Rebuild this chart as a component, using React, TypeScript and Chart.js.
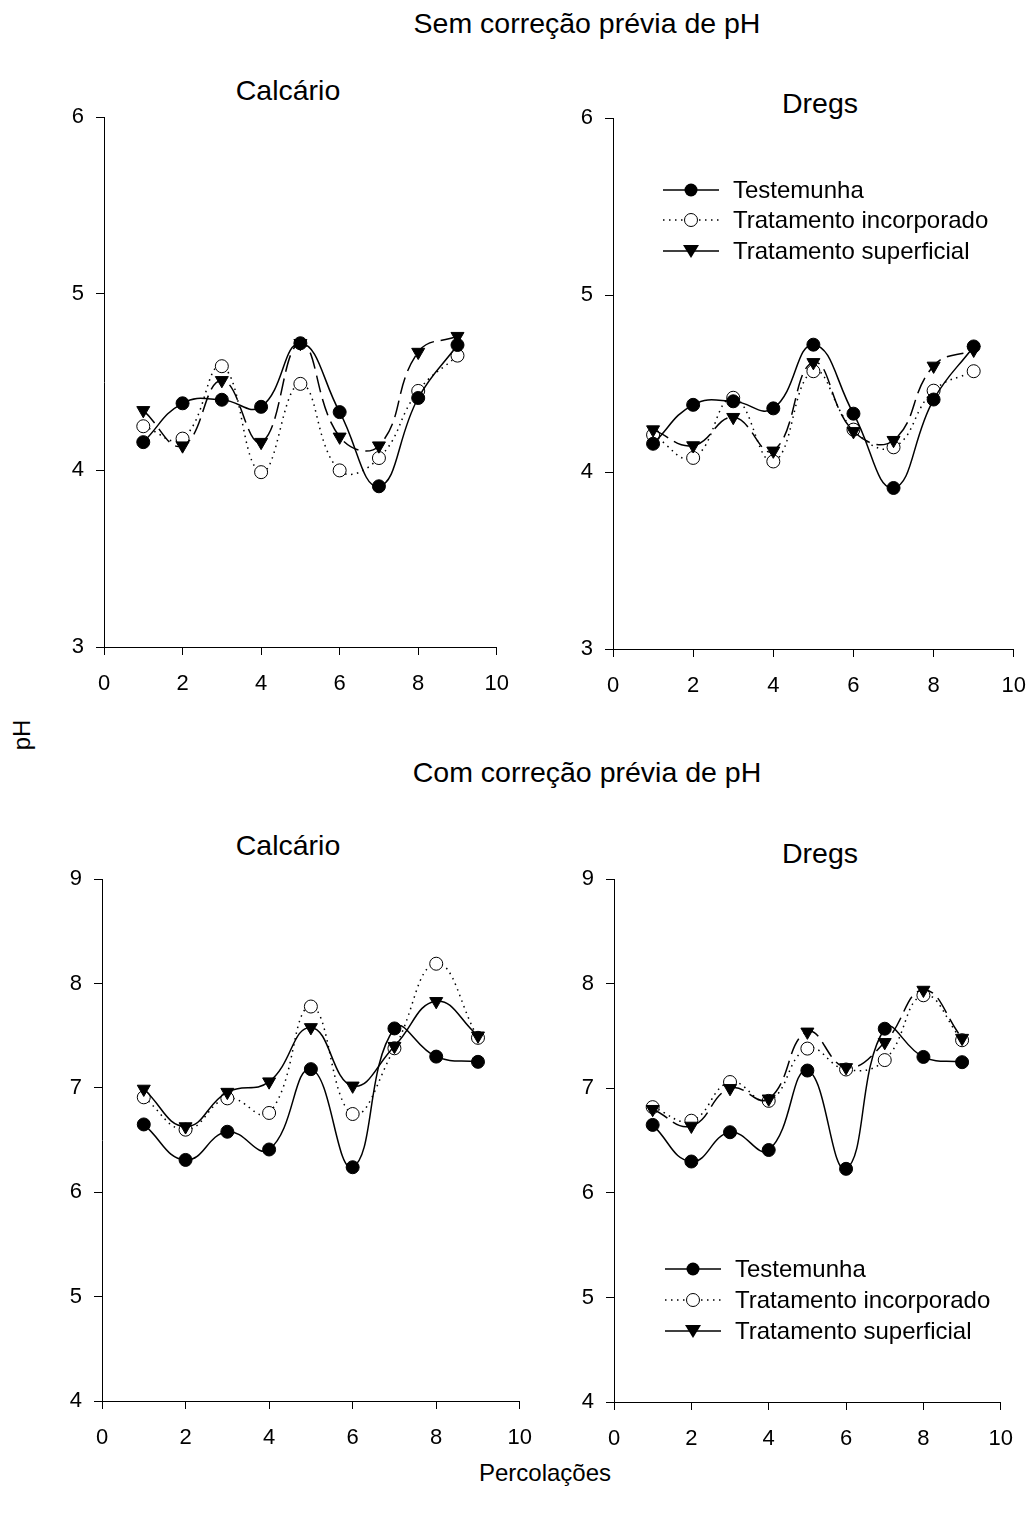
import React, { useEffect, useRef } from "react";
import { Chart, registerables } from "chart.js";

Chart.register(...registerables);

const percolacoes = [1, 2, 3, 4, 5, 6, 7, 8, 9];
const xTicks = [0, 2, 4, 6, 8, 10];
const yTicksTop = [3, 4, 5, 6];
const yTicksBottom = [4, 5, 6, 7, 8, 9];

const seriesNames = ["Testemunha", "Tratamento incorporado", "Tratamento superficial"];

const semCalcTest = [4.16, 4.38, 4.4, 4.36, 4.72, 4.33, 3.91, 4.41, 4.71];
const semCalcInc = [4.25, 4.18, 4.59, 3.99, 4.49, 4.0, 4.07, 4.45, 4.65];
const semCalcSup = [4.34, 4.14, 4.51, 4.16, 4.72, 4.19, 4.14, 4.67, 4.76];

const semDregTest = [4.16, 4.38, 4.4, 4.36, 4.72, 4.33, 3.91, 4.41, 4.71];
const semDregInc = [4.21, 4.08, 4.42, 4.06, 4.57, 4.24, 4.14, 4.46, 4.57];
const semDregSup = [4.24, 4.15, 4.31, 4.12, 4.62, 4.23, 4.18, 4.6, 4.69];

const comCalcTest = [6.65, 6.31, 6.58, 6.41, 7.18, 6.24, 7.57, 7.3, 7.25];
const comCalcInc = [6.91, 6.6, 6.9, 6.76, 7.78, 6.75, 7.38, 8.19, 7.48];
const comCalcSup = [6.99, 6.63, 6.96, 7.06, 7.58, 7.02, 7.4, 7.83, 7.5];

const comDregTest = [6.65, 6.3, 6.58, 6.41, 7.17, 6.23, 7.57, 7.3, 7.25];
const comDregInc = [6.82, 6.69, 7.06, 6.88, 7.38, 7.18, 7.27, 7.89, 7.46];
const comDregSup = [6.8, 6.64, 7.0, 6.9, 7.54, 7.2, 7.44, 7.94, 7.48];

const FONT = "'Liberation Sans', Arial, Helvetica, sans-serif";
const Y_AXIS_W = 70;
const X_AXIS_H = 70;

type PanelProps = {
  L: number; R: number; T: number; B: number;
  yMin: number; yMax: number; yTicks: number[];
  test: number[]; inc: number[]; sup: number[];
  supDashed: boolean;
};

function toPts(vals: number[]) {
  return percolacoes.map((x, i) => ({ x, y: vals[i] }));
}

function Panel(p: PanelProps) {
  const ref = useRef<HTMLCanvasElement | null>(null);
  const w0 = p.R - p.L + Y_AXIS_W + 30;
  const h0 = p.B - p.T + X_AXIS_H + 30;
  useEffect(() => {
    const canvas = ref.current;
    if (!canvas) return;
    const chart = new Chart(canvas, {
      type: "line",
      data: {
        datasets: [
          {
            label: seriesNames[0],
            data: toPts(p.test),
            borderColor: "#000",
            borderWidth: 1.5,
            tension: 0.45,
            pointStyle: "circle",
            pointRadius: 6.5,
            pointBackgroundColor: "#000",
            pointBorderColor: "#000",
            pointBorderWidth: 1,
            order: 0,
          },
          {
            label: seriesNames[1],
            data: toPts(p.inc),
            borderColor: "#000",
            borderWidth: 1.5,
            borderDash: [1.5, 4.5],
            tension: 0.45,
            pointStyle: "circle",
            pointRadius: 6.5,
            pointBackgroundColor: "#fff",
            pointBorderColor: "#000",
            pointBorderWidth: 1,
            order: 2,
          },
          {
            label: seriesNames[2],
            data: toPts(p.sup),
            borderColor: "#000",
            borderWidth: 1.5,
            borderDash: p.supDashed ? [17, 7] : [],
            tension: 0.45,
            pointStyle: "triangle",
            pointRotation: 180,
            pointRadius: 7.5,
            pointBackgroundColor: "#000",
            pointBorderColor: "#000",
            pointBorderWidth: 1,
            order: 1,
          },
        ],
      },
      options: {
        animation: false,
        responsive: false,
        maintainAspectRatio: false,
        devicePixelRatio: 1,
        layout: { padding: 0 },
        plugins: { legend: { display: false }, tooltip: { enabled: false }, title: { display: false } },
        scales: {
          x: {
            type: "linear",
            min: 0,
            max: 10,
            afterBuildTicks: (s: any) => { s.ticks = xTicks.map((v) => ({ value: v })); },
            afterFit: (s: any) => { s.height = X_AXIS_H; },
            grid: { drawOnChartArea: false, drawTicks: true, tickLength: 8, color: "#000", lineWidth: 1 },
            border: { display: true, color: "#000", width: 1 },
            ticks: { color: "#000", font: { family: FONT, size: 22 }, padding: 16, maxRotation: 0, autoSkip: false },
          },
          y: {
            type: "linear",
            min: p.yMin,
            max: p.yMax,
            afterBuildTicks: (s: any) => { s.ticks = p.yTicks.map((v) => ({ value: v })); },
            afterFit: (s: any) => { s.width = Y_AXIS_W; },
            grid: { drawOnChartArea: false, drawTicks: true, tickLength: 8, color: "#000", lineWidth: 1 },
            border: { display: true, color: "#000", width: 1 },
            ticks: { color: "#000", font: { family: FONT, size: 22 }, padding: 12, autoSkip: false },
          },
        },
      } as any,
    });
    // Second pass: size/position the canvas so the plot area lands where the reference has it.
    const ca = chart.chartArea;
    const mL = ca.left;
    const mT = ca.top;
    const mR = w0 - ca.right;
    const mB = h0 - ca.bottom;
    const W = Math.round(p.R - p.L + mL + mR);
    const H = Math.round(p.B - p.T + mT + mB);
    chart.resize(W, H);
    const ca2 = chart.chartArea;
    canvas.style.left = `${p.L - ca2.left}px`;
    canvas.style.top = `${p.T - ca2.top}px`;
    return () => chart.destroy();
  }, []);
  return (
    <canvas
      ref={ref}
      width={w0}
      height={h0}
      style={{ position: "absolute", left: p.L - Y_AXIS_W, top: p.T - 15 }}
    />
  );
}

function LegendRow({ kind, label, y, x }: { kind: number; label: string; y: number; x: number }) {
  return (
    <div style={{ position: "absolute", left: x, top: y - 15, height: 30, display: "flex", alignItems: "center" }}>
      <svg width={56} height={30} style={{ display: "block" }}>
        {kind === 1 ? (
          <line x1={0} y1={15} x2={56} y2={15} stroke="#000" strokeWidth={1.4} strokeDasharray="1.5 4.5" />
        ) : (
          <line x1={0} y1={15} x2={56} y2={15} stroke="#000" strokeWidth={1.4} />
        )}
        {kind === 0 && <circle cx={28} cy={15} r={6.5} fill="#000" />}
        {kind === 1 && <circle cx={28} cy={15} r={6.5} fill="#fff" stroke="#000" strokeWidth={1} />}
        {kind === 2 && <polygon points="20,9 36,9 28,22" fill="#000" />}
      </svg>
      <span style={{ marginLeft: 14, fontFamily: FONT, fontSize: 24, color: "#000", whiteSpace: "nowrap", lineHeight: "30px" }}>
        {label}
      </span>
    </div>
  );
}

function Text({ x, y, size, children }: { x: number; y: number; size: number; children: React.ReactNode }) {
  return (
    <div
      style={{
        position: "absolute",
        left: x,
        top: y,
        transform: "translate(-50%, -50%)",
        fontFamily: FONT,
        fontSize: size,
        color: "#000",
        whiteSpace: "nowrap",
        lineHeight: 1,
      }}
    >
      {children}
    </div>
  );
}

export default function App() {
  return (
    <div style={{ position: "absolute", left: 0, top: 0, width: 1033, height: 1519, background: "#fff", overflow: "hidden" }}>
      <Text x={587} y={23} size={28.5}>Sem correção prévia de pH</Text>
      <Text x={288} y={90} size={28.5}>Calcário</Text>
      <Text x={820} y={103} size={28.5}>Dregs</Text>
      <Text x={587} y={772} size={28.5}>Com correção prévia de pH</Text>
      <Text x={288} y={845} size={28.5}>Calcário</Text>
      <Text x={820} y={853} size={28.5}>Dregs</Text>
      <div
        style={{
          position: "absolute",
          left: 22,
          top: 735,
          transform: "translate(-50%, -50%) rotate(-90deg)",
          fontFamily: FONT,
          fontSize: 24,
          lineHeight: 1,
          whiteSpace: "nowrap",
        }}
      >
        pH
      </div>
      <Text x={545} y={1473} size={24}>Percolações</Text>

      <Panel L={104} R={497} T={117} B={647} yMin={3} yMax={6} yTicks={yTicksTop}
        test={semCalcTest} inc={semCalcInc} sup={semCalcSup} supDashed={true} />
      <Panel L={613} R={1014} T={118} B={649} yMin={3} yMax={6} yTicks={yTicksTop}
        test={semDregTest} inc={semDregInc} sup={semDregSup} supDashed={true} />
      <Panel L={102} R={520} T={879} B={1401} yMin={4} yMax={9} yTicks={yTicksBottom}
        test={comCalcTest} inc={comCalcInc} sup={comCalcSup} supDashed={false} />
      <Panel L={614} R={1001} T={879} B={1402} yMin={4} yMax={9} yTicks={yTicksBottom}
        test={comDregTest} inc={comDregInc} sup={comDregSup} supDashed={true} />

      <LegendRow kind={0} label={seriesNames[0]} x={663} y={190} />
      <LegendRow kind={1} label={seriesNames[1]} x={663} y={220} />
      <LegendRow kind={2} label={seriesNames[2]} x={663} y={251} />

      <LegendRow kind={0} label={seriesNames[0]} x={665} y={1269} />
      <LegendRow kind={1} label={seriesNames[1]} x={665} y={1300} />
      <LegendRow kind={2} label={seriesNames[2]} x={665} y={1331} />
    </div>
  );
}
